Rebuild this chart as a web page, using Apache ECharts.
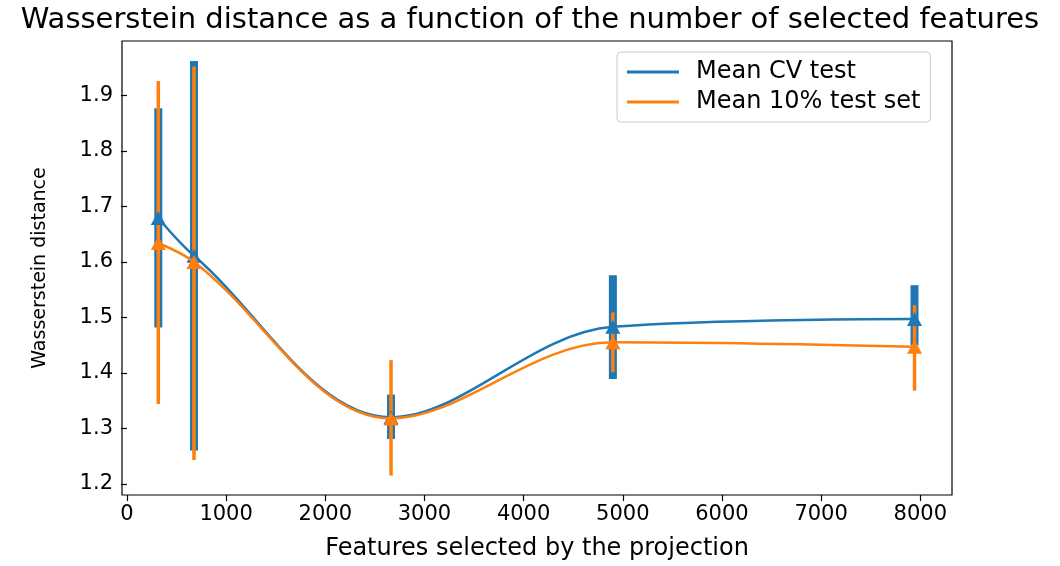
<!DOCTYPE html>
<html>
<head>
<meta charset="utf-8">
<title>Wasserstein distance</title>
<script src="https://cdn.jsdelivr.net/npm/echarts@6/dist/echarts.min.js"></script>
<style>
    html, body { margin: 0; padding: 0; background: #fff; }
    #main { width: 1060px; height: 566px; }
</style>
</head>
<body>
<div id="main"></div>
<script>
// number of selected features (x positions of the points)
var featureCounts = [316, 676, 2663, 4900, 7942];

// Mean CV test
var cvMean = [1.679, 1.611, 1.320, 1.483, 1.497];
var cvLow  = [1.482, 1.260, 1.281, 1.389, 1.450];
var cvHigh = [1.877, 1.962, 1.361, 1.576, 1.558];

// Mean 10% test set
var testMean = [1.634, 1.600, 1.318, 1.455, 1.447];
var testLow  = [1.344, 1.243, 1.215, 1.401, 1.368];
var testHigh = [1.926, 1.952, 1.423, 1.509, 1.522];

var xTicks = [0, 1000, 2000, 3000, 4000, 5000, 6000, 7000, 8000];
var yTicks = [1.2, 1.3, 1.4, 1.5, 1.6, 1.7, 1.8, 1.9];

var BLUE = '#1f77b4';
var ORANGE = '#ff7f0e';
var FONT = 'DejaVu Sans';

function pairs(xs, ys) {
    var out = [];
    for (var i = 0; i < xs.length; i++) {
        out.push([xs[i], ys[i]]);
    }
    return out;
}

function bars(xs, lo, hi) {
    var out = [];
    for (var i = 0; i < xs.length; i++) {
        out.push([xs[i], lo[i], hi[i]]);
    }
    return out;
}

// vertical error bar drawn through the axes
function errorBar(color, width) {
    return function (params, api) {
        var top = api.coord([api.value(0), api.value(2)]);
        var bottom = api.coord([api.value(0), api.value(1)]);
        return {
            type: 'line',
            shape: { x1: top[0], y1: top[1], x2: bottom[0], y2: bottom[1] },
            style: { stroke: color, lineWidth: width, lineCap: 'butt' }
        };
    };
}

var chart = echarts.init(document.getElementById('main'));

var option = {
    animation: false,
    title: {
        text: 'Wasserstein distance as a function of the number of selected features',
        left: 'center',
        top: 1,
        textStyle: { fontFamily: FONT, fontSize: 29, fontWeight: 'normal', color: '#000' }
    },
    legend: {
        orient: 'vertical',
        left: 617,
        top: 52,
        icon: 'rect',
        itemWidth: 52,
        itemHeight: 3,
        itemGap: 6,
        padding: [8, 10, 8, 10],
        borderColor: '#cccccc',
        borderWidth: 1,
        borderRadius: 4,
        data: ['Mean CV test', 'Mean 10% test set'],
        textStyle: { fontFamily: FONT, fontSize: 24, color: '#000', padding: [0, 0, 0, 12] }
    },
    grid: {
        left: 122,
        right: 108,
        top: 41,
        bottom: 68,
        show: true,
        borderColor: '#000',
        borderWidth: 1.2,
        backgroundColor: '#fff'
    },
    xAxis: {
        type: 'value',
        min: -50,
        max: 8320,
        name: 'Features selected by the projection',
        nameLocation: 'middle',
        nameGap: 42,
        nameTextStyle: { fontFamily: FONT, fontSize: 24, color: '#000' },
        splitLine: { show: false },
        axisLine: { show: false },
        axisTick: { show: true, length: 6, customValues: xTicks, lineStyle: { color: '#000', width: 1.2 } },
        axisLabel: {
            customValues: xTicks,
            fontFamily: FONT, fontSize: 21, color: '#000', margin: 9,
            formatter: function (v) { return String(v); }
        }
    },
    yAxis: {
        type: 'value',
        min: 1.18,
        max: 1.998,
        name: 'Wasserstein distance',
        nameLocation: 'middle',
        nameGap: 72,
        nameTextStyle: { fontFamily: FONT, fontSize: 19, color: '#000' },
        splitLine: { show: false },
        axisLine: { show: false },
        axisTick: { show: true, length: 6, customValues: yTicks, lineStyle: { color: '#000', width: 1.2 } },
        axisLabel: {
            customValues: yTicks,
            fontFamily: FONT, fontSize: 21, color: '#000', margin: 9,
            formatter: function (v) { return v.toFixed(1); }
        }
    },
    series: [
        {
            name: 'Mean CV test',
            type: 'custom',
            renderItem: errorBar(BLUE, 8),
            itemStyle: { color: BLUE },
            data: bars(featureCounts, cvLow, cvHigh),
            z: 1
        },
        {
            name: 'Mean 10% test set',
            type: 'custom',
            renderItem: errorBar(ORANGE, 3.5),
            itemStyle: { color: ORANGE },
            data: bars(featureCounts, testLow, testHigh),
            z: 2
        },
        {
            name: 'Mean CV test',
            type: 'line',
            data: pairs(featureCounts, cvMean),
            smooth: 0.35,
            symbol: 'triangle',
            symbolSize: [15, 14],
            itemStyle: { color: BLUE },
            lineStyle: { color: BLUE, width: 2.5 },
            z: 3
        },
        {
            name: 'Mean 10% test set',
            type: 'line',
            data: pairs(featureCounts, testMean),
            smooth: 0.35,
            symbol: 'triangle',
            symbolSize: [15, 14],
            itemStyle: { color: ORANGE },
            lineStyle: { color: ORANGE, width: 2.5 },
            z: 4
        }
    ]
};

option && chart.setOption(option);
</script>
</body>
</html>
